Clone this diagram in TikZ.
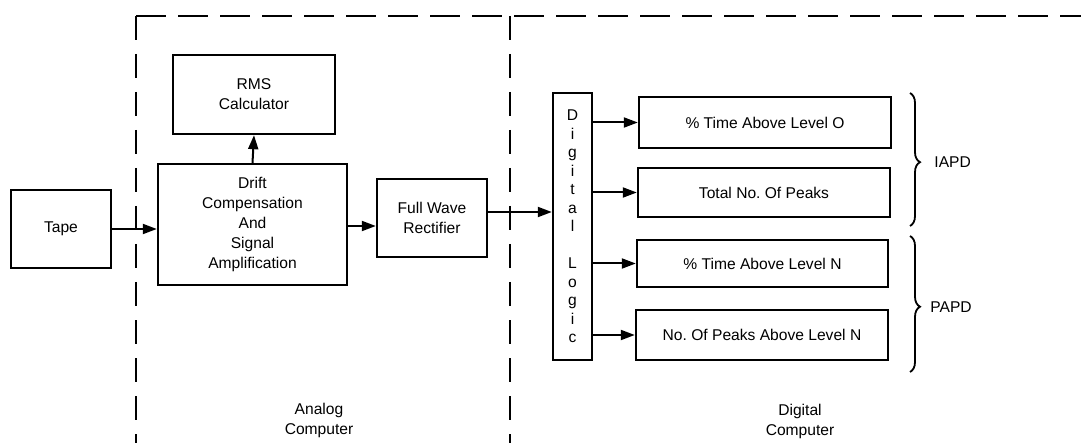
\documentclass[tikz,border=0pt]{standalone}
\usepackage{fontspec}
\setmainfont{Liberation Sans}
\frenchspacing
\usetikzlibrary{arrows.meta,decorations.pathreplacing,calc}
\begin{document}
\begin{tikzpicture}[x=0.5pt,y=-0.5pt,
  every node/.style={font=\fontsize{7.8}{10}\selectfont, inner sep=0pt},
  box/.style={draw, line width=1.2pt, align=center},
  arr/.style={line width=1pt, -{Triangle[length=7pt,width=5pt]}},
  frame/.style={line width=1pt, dash pattern=on 15pt off 6pt},
  vframe/.style={line width=1pt, dash pattern=on 12pt off 7pt},
  brc/.style={line width=0.9pt, decorate, decoration={brace, amplitude=5pt, aspect=0.52}},
  lbl/.style={align=center}]
\useasboundingbox (0,0) rectangle (1081,443);
% dashed frames
\coordinate (tl) at (136,16);
\coordinate (tr) at (1081,16);
\coordinate (bl) at (136,443);
\coordinate (tm) at (510,16);
\coordinate (bm) at (510,443);
\draw[frame] (tl) -- (tr);
\draw[vframe] (tl) -- (bl);
\draw[vframe] (tm) -- (bm);
% analog part
\node[box, minimum width=50pt, minimum height=39pt] (tape) at (61,229) {Tape};
\node[box, minimum width=94.5pt, minimum height=60.5pt] (drift) at (252.5,224.5) {Drift\\Compensation\\And\\Signal\\Amplification};
\node[box, minimum width=81pt, minimum height=39.5pt] (rms) at (254,94.5) {RMS\\Calculator};
\node[box, minimum width=55pt, minimum height=39pt] (fwr) at (432,218) {Full Wave\\Rectifier};
% digital part
\node[box, minimum width=19.5pt, minimum height=133.5pt, font=\fontsize{7.8}{9.25}\selectfont] (dl) at (572.5,226.5) {D\\i\\g\\i\\t\\a\\l\\[9.25pt]L\\o\\g\\i\\c};
\node[box, minimum width=126pt, minimum height=25.5pt] (b1) at (765,122.5) {\% Time Above Level O};
\node[box, minimum width=126pt, minimum height=24.5pt] (b2) at (764,192.5) {Total No. Of Peaks};
\node[box, minimum width=125.5pt, minimum height=23.5pt] (b3) at (762.5,263.5) {\% Time Above Level N};
\node[box, minimum width=126pt, minimum height=25pt] (b4) at (762,335) {No. Of Peaks Above Level N};
% connectors
\draw[arr] (tape.east) -- (tape.east -| drift.west);
\draw[arr] (drift.north) -- (rms.south);
\draw[arr] ([yshift=-0.75pt]drift.east) -- ([yshift=-0.75pt]drift.east -| fwr.west);
\draw[arr] ([yshift=3pt]fwr.east) -- ([yshift=3pt]fwr.east -| dl.west);
\draw[arr] (dl.east |- b1.west) -- (b1.west);
\draw[arr] (dl.east |- b2.west) -- (b2.west);
\draw[arr] (dl.east |- b3.west) -- (b3.west);
\draw[arr] (dl.east |- b4.west) -- (b4.west);
% braces
\coordinate (i1) at (910,93);
\coordinate (i2) at (910,226);
\coordinate (p1) at (910,236);
\coordinate (p2) at (910,372);
\draw[brc] (i1) -- (i2);
\draw[brc] (p1) -- (p2);
\node[anchor=west] (iapd) at (934,162) {IAPD};
\node[anchor=west] (papd) at (930,307) {PAPD};
% section labels
\node[lbl] (analog) at (319,420) {Analog\\Computer};
\node[lbl] (digital) at (800,421) {Digital\\Computer};
\end{tikzpicture}
\end{document}
